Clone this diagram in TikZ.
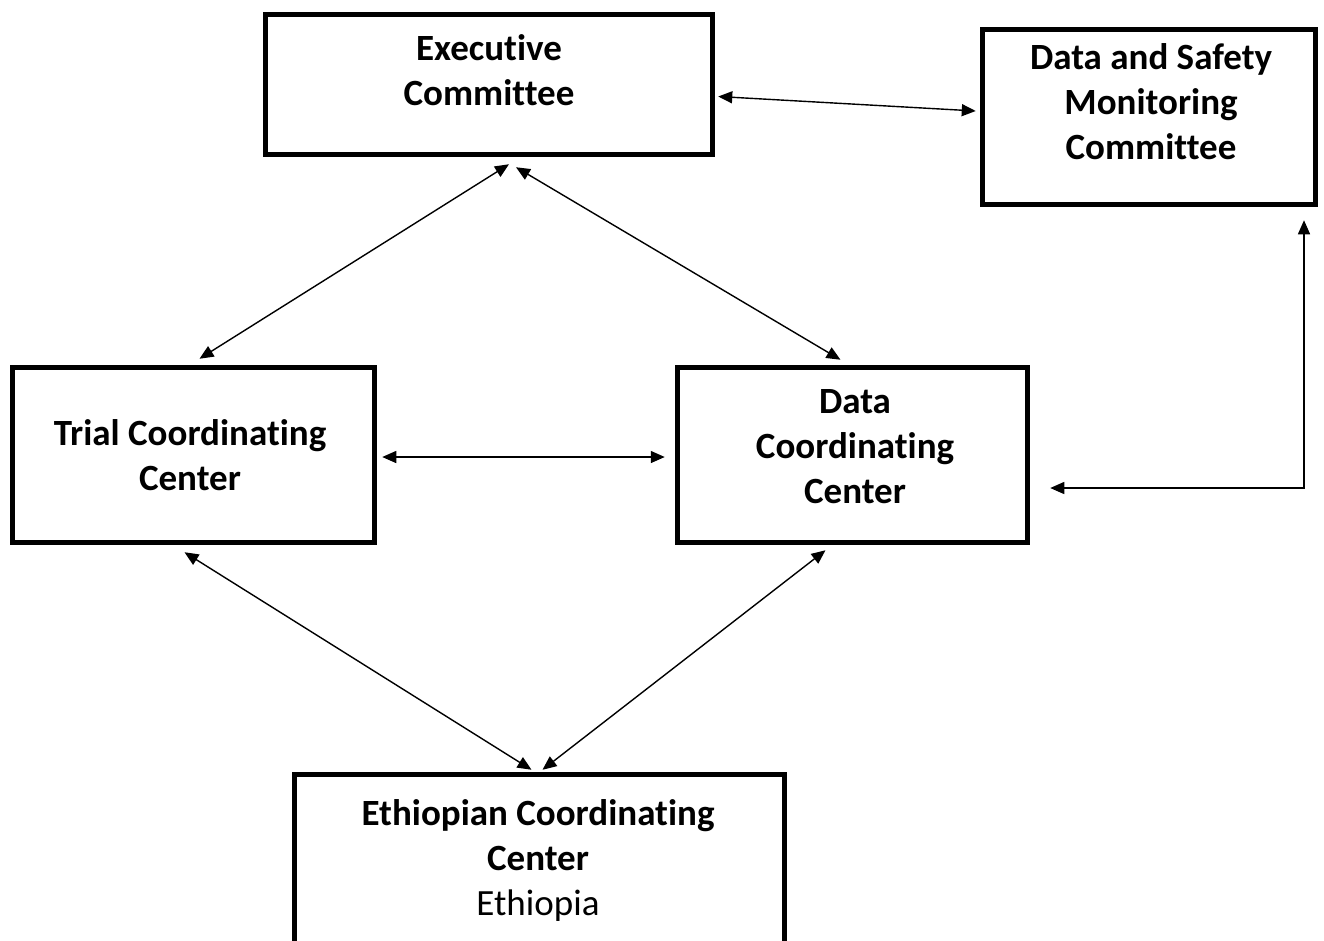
\documentclass[tikz,border=0pt]{standalone}
\usepackage{fontspec}
\setmainfont{Carlito}[Ligatures={NoCommon}]
\usetikzlibrary{arrows.meta,calc}
\tikzset{
  box/.style={draw=black,line width=5.5pt,rectangle,inner sep=0pt,minimum height=175pt},
  lbl/.style={align=center,font=\fontsize{37}{45}\selectfont\bfseries,inner sep=0pt},
  arr/.style={line width=1.4pt,{Triangle[length=14pt,width=12pt]}-{Triangle[length=14pt,width=12pt]}}
}
\begin{document}
\begin{tikzpicture}[x=1pt,y=-1pt]
\useasboundingbox (0,0) rectangle (1324,940);
\clip (0,0) rectangle (1324,940);
\node[box,minimum width=447pt,minimum height=140pt] (exec) at (489,84.5) {};
\node[box,minimum width=333pt] (dsmc) at (1149,117) {};
\node[box,minimum width=362pt] (tcc) at (193.5,455) {};
\node[box,minimum width=350pt] (dcc) at (852.5,455) {};
\node[box,minimum width=490pt] (ecc) at (539.5,862) {};

\node[lbl] (exect) at (489,70) {Executive\\Committee};
\node[lbl] (dsmct) at (1151,102) {Data and Safety\\Monitoring\\Committee};
\node[lbl] (tcct) at (190,455) {Trial Coordinating\\Center};
\node[lbl] (dcct) at (855,447) {Data\\Coordinating\\Center};
\node[lbl] (ecct) at (538,860) {Ethiopian Coordinating\\Center\\{\mdseries Ethiopia}};

\draw[arr] ($(exec.east)+(3,12)$) -- ($(dsmc.west)+(-4,-6)$);
\draw[arr] ($(exec.south)+(20,7)$) -- ($(tcc.north)+(6,-6)$);
\draw[arr] ($(exec.south)+(27,10)$) -- ($(dcc.north)+(-12,-5)$);
\draw[arr] ($(tcc.east)+(5,2)$) -- ($(dcc.west)+(-10,2)$);
\draw[arr] ($(dsmc.south)+(155,13)$) |- ($(dcc.east)+(20,33)$);
\draw[arr] ($(tcc.south)+(-9,7)$) -- ($(ecc.north)+(-8,-2)$);
\draw[arr] ($(dcc.south)+(-27,5)$) -- ($(ecc.north)+(3,-2)$);
\end{tikzpicture}
\end{document}
